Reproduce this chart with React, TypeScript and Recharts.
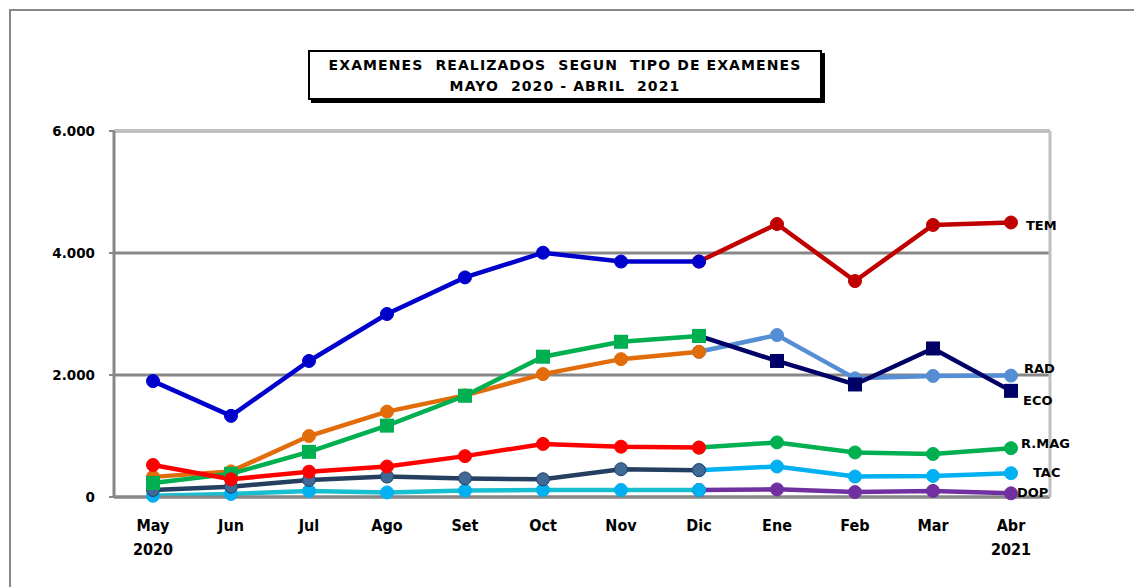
import React from "react";
import {
  CartesianGrid,
  LabelList,
  Line,
  LineChart,
  ReferenceLine,
  XAxis,
  YAxis,
} from "recharts";

document.body.style.margin = "0";

const months = ["May", "Jun", "Jul", "Ago", "Set", "Oct", "Nov", "Dic", "Ene", "Feb", "Mar", "Abr"];
const years = ["2020", "", "", "", "", "", "", "", "", "", "", "2021"];
const yTicks = [0, 2000, 4000, 6000];
const boundaryTicks = [0, 1, 2, 3, 4, 5, 6, 7, 8, 9, 10, 11, 12];

// May - Dic
const blue = [1900, 1330, 2230, 3000, 3600, 4005, 3860, 3860, null, null, null, null];
const orange = [330, 420, 1000, 1400, 1665, 2015, 2260, 2380, null, null, null, null];
const green = [230, 380, 740, 1170, 1660, 2300, 2545, 2640, null, null, null, null];
const red = [525, 290, 415, 500, 670, 870, 825, 810, null, null, null, null];
const slate = [115, 170, 280, 335, 305, 290, 455, 440, null, null, null, null];
const cyan = [20, 50, 100, 75, 105, 115, 115, 115, null, null, null, null];

// Dic - Abr
const tem = [null, null, null, null, null, null, null, 3860, 4475, 3540, 4460, 4500];
const rad = [null, null, null, null, null, null, null, 2380, 2655, 1945, 1985, 1990];
const eco = [null, null, null, null, null, null, null, 2640, 2230, 1845, 2435, 1740];
const rmag = [null, null, null, null, null, null, null, 810, 895, 730, 705, 800];
const tac = [null, null, null, null, null, null, null, 440, 500, 335, 345, 390];
const dop = [null, null, null, null, null, null, null, 115, 125, 80, 100, 60];

const data = months.map((m, i) => ({
  month: m,
  blue: blue[i],
  orange: orange[i],
  green: green[i],
  red: red[i],
  slate: slate[i],
  cyan: cyan[i],
  tem: tem[i],
  rad: rad[i],
  eco: eco[i],
  rmag: rmag[i],
  tac: tac[i],
  dop: dop[i],
}));

const font = "'DejaVu Sans', Verdana, sans-serif";
const condensed = "'DejaVu Sans Condensed', 'DejaVu Sans', sans-serif";
const grey = "#878787";
const X = "m";
const LW = 4.5;

const MonthTick = (props: any) => {
  const { x, y, payload } = props;
  const i = months.indexOf(payload.value);
  return (
    <g>
      <text x={x} y={y} dy={26} textAnchor="middle" fontFamily={condensed} fontWeight="bold" fontSize={16} fill="#000">
        {payload.value}
      </text>
      {years[i] && (
        <text x={x} y={y} dy={50} textAnchor="middle" fontFamily={condensed} fontWeight="bold" fontSize={16} fill="#000">
          {years[i]}
        </text>
      )}
    </g>
  );
};

const circle = (color: string, stroke?: string) => ({
  r: 6.5,
  fill: color,
  stroke: stroke ?? color,
  strokeWidth: 1,
});

const square = (color: string) => (props: any) => {
  const { cx, cy, index } = props;
  if (cx == null || cy == null) return <g key={index} />;
  return <rect key={index} x={cx - 7} y={cy - 7} width={14} height={14} fill={color} />;
};

const endLabel = (name: string, dx: number, dy: number) => (props: any) => {
  const { x, y, index } = props;
  if (index !== months.length - 1 || x == null) return null;
  return (
    <text x={x + dx} y={y + dy} dominantBaseline="middle" fontFamily={font} fontWeight="bold" fontSize={13} fill="#000">
      {name}
    </text>
  );
};

export default function App() {
  return (
    <div style={{ position: "relative", width: 1134, height: 587, background: "#fff", overflow: "hidden" }}>
      <div
        style={{
          position: "absolute",
          left: 9,
          top: 9,
          width: 1300,
          height: 800,
          borderTop: `2px solid ${grey}`,
          borderLeft: `2px solid ${grey}`,
        }}
      />
      <LineChart
        width={1134}
        height={587}
        data={data}
        margin={{ top: 131, right: 0, left: 0, bottom: 0 }}
        style={{ position: "absolute", left: 0, top: 0 }}
      >
        <CartesianGrid vertical={false} stroke={grey} strokeWidth={3} />
        <ReferenceLine y={6000} stroke="#c0c0c0" strokeWidth={3} />
        <XAxis
          type="number"
          domain={[0, 12]}
          ticks={boundaryTicks}
          tick={false}
          axisLine={{ stroke: grey, strokeWidth: 3 }}
          tickLine={{ stroke: grey, strokeWidth: 2 }}
          tickSize={5}
          height={8}
        />
        <XAxis
          xAxisId={X}
          dataKey="month"
          scale="band"
          axisLine={false}
          tickLine={false}
          tickSize={0}
          tickMargin={0}
          interval={0}
          height={82}
          tick={<MonthTick />}
        />
        <YAxis
          domain={[0, 6000]}
          ticks={yTicks}
          width={114}
          tickFormatter={(v: number) => v.toLocaleString("de-DE")}
          axisLine={{ stroke: grey, strokeWidth: 3 }}
          tickLine={{ stroke: grey, strokeWidth: 2 }}
          tickSize={5}
          tickMargin={14}
          tick={{ fontFamily: font, fontWeight: "bold", fontSize: 13.5, fill: "#000" }}
        />
        <YAxis
          yAxisId="r"
          orientation="right"
          domain={[0, 6000]}
          width={84}
          tick={false}
          tickLine={false}
          axisLine={{ stroke: "#c0c0c0", strokeWidth: 3 }}
        />

        <Line xAxisId={X} dataKey="dop" stroke="#7030a0" strokeWidth={LW} dot={circle("#7030a0")} isAnimationActive={false}>
          <LabelList content={endLabel("DOP", 6, 0)} />
        </Line>
        <Line xAxisId={X} dataKey="tac" stroke="#00b0f0" strokeWidth={LW} dot={circle("#00b0f0")} isAnimationActive={false}>
          <LabelList content={endLabel("TAC", 22, 0)} />
        </Line>
        <Line xAxisId={X} dataKey="rmag" stroke="#00b050" strokeWidth={LW} dot={circle("#00b050")} isAnimationActive={false}>
          <LabelList content={endLabel("R.MAG", 10, -4)} />
        </Line>
        <Line xAxisId={X} dataKey="rad" stroke="#558ed5" strokeWidth={LW} dot={circle("#558ed5")} isAnimationActive={false}>
          <LabelList content={endLabel("RAD", 13, -6)} />
        </Line>
        <Line xAxisId={X} dataKey="eco" stroke="#000066" strokeWidth={LW} dot={square("#000066")} isAnimationActive={false}>
          <LabelList content={endLabel("ECO", 12, 11)} />
        </Line>
        <Line xAxisId={X} dataKey="tem" stroke="#c00000" strokeWidth={LW} dot={circle("#c00000")} isAnimationActive={false}>
          <LabelList content={endLabel("TEM", 15, 4)} />
        </Line>

        <Line xAxisId={X} dataKey="cyan" stroke="#17bed0" strokeWidth={LW} dot={circle("#00b0f0")} isAnimationActive={false} />
        <Line xAxisId={X} dataKey="slate" stroke="#243f60" strokeWidth={LW} dot={circle("#3f6a97", "#243f60")} isAnimationActive={false} />
        <Line xAxisId={X} dataKey="orange" stroke="#e36c0a" strokeWidth={LW} dot={circle("#e36c0a")} isAnimationActive={false} />
        <Line xAxisId={X} dataKey="green" stroke="#00b050" strokeWidth={LW} dot={square("#00b050")} isAnimationActive={false} />
        <Line xAxisId={X} dataKey="red" stroke="#ff0000" strokeWidth={LW} dot={circle("#ff0000")} isAnimationActive={false} />
        <Line xAxisId={X} dataKey="blue" stroke="#0000cc" strokeWidth={LW} dot={circle("#0000cc")} isAnimationActive={false} />
      </LineChart>
      <div
        style={{
          position: "absolute",
          left: 308,
          top: 50,
          width: 514,
          height: 50,
          border: "2px solid #000",
          boxShadow: "3px 3px 0 #000",
          background: "#fff",
          fontFamily: font,
          fontWeight: "bold",
          fontSize: 14,
          letterSpacing: 1.1,
          lineHeight: "21px",
          textAlign: "center",
          paddingTop: 3,
          boxSizing: "border-box",
          color: "#000",
          whiteSpace: "pre",
        }}
      >
        {"EXAMENES  REALIZADOS  SEGUN  TIPO DE EXAMENES\nMAYO  2020 - ABRIL  2021"}
      </div>
    </div>
  );
}
